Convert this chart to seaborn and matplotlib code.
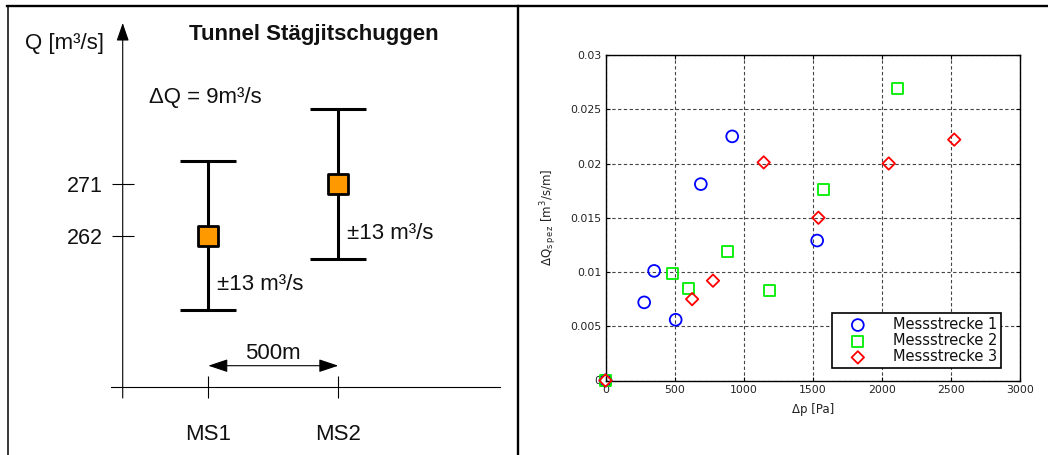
import matplotlib
matplotlib.use("Agg")
import matplotlib.pyplot as plt
from matplotlib.lines import Line2D
import seaborn as sns

# ---- Discharge at the two measuring sections (Tunnel Stägjitschuggen) ----
sections = ["MS1", "MS2"]
section_pos_m = [0, 500]
discharge = [262, 271]
discharge_err = [13, 13]

# ---- Specific discharge loss vs. pressure difference ----
series_names = ["Messstrecke 1", "Messstrecke 2", "Messstrecke 3"]
ms1_dp = [0, 280, 352, 508, 690, 917, 1532]
ms1_dq = [0, 0.0072, 0.0101, 0.0056, 0.0181, 0.0225, 0.0129]
ms2_dp = [0, 484, 600, 883, 1186, 1580, 2113]
ms2_dq = [0, 0.0099, 0.0085, 0.0119, 0.0083, 0.0176, 0.0269]
ms3_dp = [0, 627, 778, 1145, 1541, 2050, 2524]
ms3_dq = [0, 0.0075, 0.0092, 0.0201, 0.0150, 0.0200, 0.0222]

x_ticks = [0, 500, 1000, 1500, 2000, 2500, 3000]
y_ticks = [0, 0.005, 0.01, 0.015, 0.02, 0.025, 0.03]
y_tick_labels = ["0", "0.005", "0.01", "0.015", "0.02", "0.025", "0.03"]

W, H = 1048, 455
DPI = 100
plt.rcParams["mathtext.fontset"] = "dejavusans"

fig = plt.figure(figsize=(W / DPI, H / DPI), dpi=DPI)
fig.patch.set_facecolor("white")


def fx(px):
    return px / W


def fy(py):
    return 1 - py / H


# ---------------- left panel: schematic of the two sections ----------------
LEFT_FONT = "Liberation Sans"
axl = fig.add_axes([0, 0, fx(517), 1])
axl.patch.set_visible(False)
axl.set_xlim(-801.2, 1187.3)
axl.set_ylim(223.84, 302.97)

X_AXIS = -329.2      # position of the Q axis (m)
Q_AXIS = 235.67      # position of the section axis (m3/s)

axl.errorbar(section_pos_m, discharge, yerr=discharge_err, fmt="none",
             ecolor="black", elinewidth=2.2, capsize=20, capthick=2.2, zorder=2)
sns.scatterplot(x=section_pos_m, y=discharge, ax=axl, marker="s", s=190,
                color="#FF9900", edgecolor="black", linewidth=2.0, zorder=3)
for path in axl.collections:
    path.set_joinstyle("round")

for side in ["top", "right", "left"]:
    axl.spines[side].set_visible(False)
axl.spines["left"].set_position(("data", X_AXIS))
axl.spines["bottom"].set_position(("data", Q_AXIS))
axl.spines["bottom"].set_bounds(-373.8, 1121.9)
axl.spines["bottom"].set_linewidth(0.8)

# Q axis with arrow head
axl.annotate("", xy=(X_AXIS, 298.97), xytext=(X_AXIS, 233.75),
             arrowprops=dict(arrowstyle="-|>,head_length=1.1,head_width=0.38",
                             color="black", lw=0.8, shrinkA=0, shrinkB=0))

axl.set_yticks(discharge, [str(q) for q in discharge])
axl.set_xticks(section_pos_m, sections)
axl.tick_params(axis="y", direction="inout", length=16, width=0.8,
                labelsize=15.5, pad=6.5)
axl.tick_params(axis="x", direction="inout", length=15.3, width=0.8,
                labelsize=16, pad=19)
for lab in axl.get_xticklabels() + axl.get_yticklabels():
    lab.set_fontfamily(LEFT_FONT)
    lab.set_color("#111111")

# distance between the sections
ARROW_Q = 239.37
axl.annotate("", xy=(section_pos_m[1], ARROW_Q), xytext=(section_pos_m[0], ARROW_Q),
             arrowprops=dict(arrowstyle="<|-|>,head_length=1.2,head_width=0.4",
                             color="black", lw=0.8, shrinkA=0, shrinkB=0))
axl.annotate(f"{section_pos_m[1] - section_pos_m[0]}m",
             xy=((section_pos_m[0] + section_pos_m[1]) / 2, ARROW_Q),
             xytext=(0, 4.6), textcoords="offset points", ha="center",
             va="baseline", fontsize=16, family=LEFT_FONT, color="#111111")

# uncertainty labels next to each bar
for xpos, q, err in zip(section_pos_m, discharge, discharge_err):
    axl.annotate(f"±{err} m³/s", xy=(xpos, q), xytext=(6.2, -39.5),
                 textcoords="offset points", ha="left", va="baseline",
                 fontsize=16, family=LEFT_FONT, color="#111111")

fig.text(fx(313.8), fy(40), "Tunnel Stägjitschuggen", ha="center", va="baseline",
         fontsize=16, fontweight="bold", family=LEFT_FONT, color="#111111")
fig.text(fx(25), fy(49), "Q [m³/s]", ha="left", va="baseline",
         fontsize=16, family=LEFT_FONT, color="#111111")
fig.text(fx(149), fy(103), f"ΔQ = {discharge[1] - discharge[0]}m³/s", ha="left",
         va="baseline", fontsize=16, family=LEFT_FONT, color="#111111")

# ---------------- right panel: scatter of the three sections ----------------
axr = fig.add_axes([fx(605.5), fy(380.5), fx(414.5), 325.5 / H])
series = [
    (ms1_dp, ms1_dq, "#0000FF", "o", 72),
    (ms2_dp, ms2_dq, "#00EE00", "s", 62),
    (ms3_dp, ms3_dq, "#FF0000", "D", 40),
]
for name, (dp, dq, col, mk, size) in zip(series_names, series):
    sns.scatterplot(x=dp, y=dq, ax=axr, marker=mk, s=size, facecolor="none",
                    edgecolor=col, linewidth=1.3, label=name, clip_on=False,
                    zorder=3, legend=False)

axr.set_xlim(x_ticks[0], x_ticks[-1])
axr.set_ylim(y_ticks[0], y_ticks[-1])
axr.set_xticks(x_ticks, [str(t) for t in x_ticks])
axr.set_yticks(y_ticks, y_tick_labels)
axr.grid(True, color="#444444", linestyle=(0, (3, 2.2)), linewidth=0.8)
axr.set_axisbelow(True)
for sp in axr.spines.values():
    sp.set_linewidth(1.0)
    sp.set_color("black")
axr.tick_params(direction="in", length=3, width=0.8, top=True, right=True,
                labelsize=7.8, pad=3, colors="black", labelcolor="#222222")
axr.set_xlabel("Δp [Pa]", fontsize=8.5, labelpad=6, color="#222222")
axr.set_ylabel(r"$\Delta$Q$_{\rm s\,p\,e\,z}$ [m$^3$/s/m]", fontsize=8.5,
               labelpad=8, color="#222222")

handles, labels = axr.get_legend_handles_labels()
leg = axr.legend(handles, labels, loc="lower right",
                 bbox_to_anchor=((1001 - 605.5) / 414.5, (380.5 - 368) / 325.5),
                 fontsize=10.5, frameon=True, fancybox=False, framealpha=1,
                 edgecolor="black", borderpad=0.26, labelspacing=0.08,
                 handlelength=3.0, handletextpad=0.9, borderaxespad=0)
leg.get_frame().set_linewidth(1.2)
for t in leg.get_texts():
    t.set_color("#111111")

# ---------------- outer frame and divider ----------------
fig.add_artist(Line2D([fx(7), 1], [fy(6.2), fy(6.2)], transform=fig.transFigure,
                      color="black", lw=1.7))
fig.add_artist(Line2D([fx(7.8), fx(7.8)], [fy(6.2), 0], transform=fig.transFigure,
                      color="black", lw=1.1))
fig.add_artist(Line2D([fx(517.8), fx(517.8)], [fy(6.2), 0], transform=fig.transFigure,
                      color="black", lw=1.7))

fig.savefig("out.png", dpi=DPI, facecolor="white")
